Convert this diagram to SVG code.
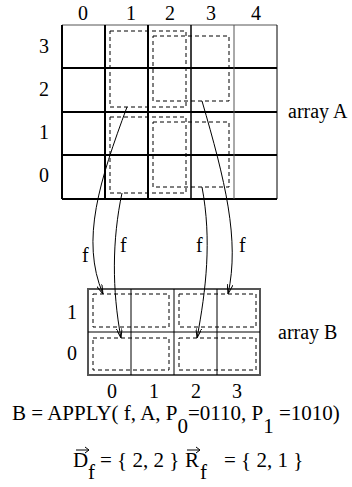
<svg xmlns="http://www.w3.org/2000/svg" width="352" height="487" viewBox="0 0 352 487" font-family="'Liberation Serif', 'DejaVu Serif', serif">
<defs>
<style>
text{font-family:'Liberation Serif','DejaVu Serif',serif;fill:#000}
.lbl{font-size:20px}
.eq{font-size:21px}
.thick{stroke:#000;stroke-width:2;fill:none}
.thin{stroke:#000;stroke-width:1;fill:none}
.gray{stroke:#555;stroke-width:1;fill:none}
.dash{stroke:#000;stroke-width:1;fill:none;stroke-dasharray:4,3}
.conn{stroke:#000;stroke-width:1;fill:none;marker-end:url(#ah)}
.vec{stroke:#000;stroke-width:1;fill:none}
</style>
<marker id="ah" viewBox="0 0 10 6" refX="10" refY="3" markerWidth="10" markerHeight="6" markerUnits="userSpaceOnUse" orient="auto">
<path d="M0,0 L10,3 L0,6" fill="none" stroke="#000" stroke-width="1"/>
</marker>
</defs>
<rect width="352" height="487" fill="#fff"/>
<g id="arrayA">
<line class="gray" x1="62" y1="25" x2="277" y2="25"/>
<line class="thick" x1="62" y1="68" x2="277" y2="68"/>
<line class="thick" x1="62" y1="112" x2="277" y2="112"/>
<line class="thick" x1="62" y1="155" x2="277" y2="155"/>
<line class="thick" x1="62" y1="199" x2="277" y2="199"/>
<line class="thick" x1="62" y1="25" x2="62" y2="199"/>
<line class="thick" x1="105" y1="25" x2="105" y2="199"/>
<line class="thick" x1="148" y1="25" x2="148" y2="199"/>
<line class="thin" x1="191" y1="25" x2="191" y2="199" style="stroke-width:1.5"/>
<line class="gray" x1="234" y1="25" x2="234" y2="199"/>
<line class="thin" x1="277" y1="25" x2="277" y2="199"/>
<rect class="dash" x="110" y="31" width="76" height="76"/>
<rect class="dash" x="153" y="36" width="76" height="65"/>
<rect class="dash" x="110" y="117" width="76" height="76"/>
<rect class="dash" x="153" y="122" width="76" height="65"/>
<text class="lbl" x="83" y="20" text-anchor="middle">0</text>
<text class="lbl" x="131" y="20" text-anchor="middle">1</text>
<text class="lbl" x="170" y="20" text-anchor="middle">2</text>
<text class="lbl" x="211" y="20" text-anchor="middle">3</text>
<text class="lbl" x="256" y="20" text-anchor="middle">4</text>
<text class="lbl" x="44" y="53" text-anchor="middle">3</text>
<text class="lbl" x="44" y="96" text-anchor="middle">2</text>
<text class="lbl" x="44" y="139" text-anchor="middle">1</text>
<text class="lbl" x="44" y="182" text-anchor="middle">0</text>
<text class="lbl" x="288" y="118">array A</text>
</g>
<g id="arrayB">
<rect x="88" y="289" width="172" height="86" fill="none" stroke="#555" stroke-width="2"/>
<line class="thin" x1="88" y1="332" x2="260" y2="332"/>
<line class="thin" x1="131" y1="289" x2="131" y2="375"/>
<line class="thin" x1="174" y1="289" x2="174" y2="375"/>
<line class="thin" x1="217" y1="289" x2="217" y2="375"/>
<rect class="dash" x="93" y="294" width="76" height="33"/>
<rect class="dash" x="179" y="294" width="77" height="33"/>
<rect class="dash" x="93" y="338" width="76" height="32"/>
<rect class="dash" x="179" y="338" width="77" height="32"/>
<text class="lbl" x="72" y="319" text-anchor="middle">1</text>
<text class="lbl" x="72" y="360" text-anchor="middle">0</text>
<text class="lbl" x="278" y="339">array B</text>
<text class="lbl" x="112" y="398" text-anchor="middle">0</text>
<text class="lbl" x="154" y="398" text-anchor="middle">1</text>
<text class="lbl" x="196" y="398" text-anchor="middle">2</text>
<text class="lbl" x="237" y="398" text-anchor="middle">3</text>
</g>
<g id="connectors">
<path class="conn" d="M127,107 C100,180 80,240 103,294"/>
<path class="conn" d="M122,193 C112,240 112,290 121,338"/>
<path class="conn" d="M202,187 C212,240 206,290 197,338"/>
<path class="conn" d="M202,101 C225,180 240,240 228,294"/>
<text class="lbl" x="82" y="262">f</text>
<text class="lbl" x="120" y="252">f</text>
<text class="lbl" x="196" y="252">f</text>
<text class="lbl" x="239" y="252">f</text>
</g>
<g id="formula">
<text class="eq" x="12" y="420">B = APPLY( f, A, P<tspan dy="13">0</tspan><tspan dy="-13">=0110, P</tspan><tspan dy="13">1</tspan><tspan dy="-13"> =1010)</tspan></text>
<text class="eq" y="467"><tspan x="73">D</tspan><tspan x="88" y="479">f</tspan><tspan x="100" y="467">= { 2, 2 }</tspan><tspan x="185">R</tspan><tspan x="200" y="479">f</tspan><tspan x="224" y="467">= { 2, 1 }</tspan></text>
<path class="vec" d="M76,450 L89,450 M85,447 L89,450 L85,453"/>
<path class="vec" d="M187,450 L200,450 M196,447 L200,450 L196,453"/>
</g>
</svg>
